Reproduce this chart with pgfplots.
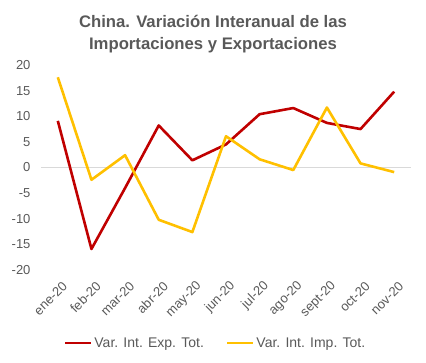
\documentclass[border=0pt]{standalone}
\usepackage{pgfplots}
\pgfplotsset{compat=1.18}
\usepackage{fontspec}
\setmainfont{Liberation Sans}
\definecolor{txt}{HTML}{595959}
\definecolor{expc}{HTML}{C00000}
\definecolor{impc}{HTML}{FFC000}
\definecolor{zl}{HTML}{D9D9D9}
\begin{document}
\begin{tikzpicture}[x=1pt,y=1pt]
\useasboundingbox (-41,-93) rectangle (385,270);
\begin{axis}[
  at={(0,0)}, anchor=south west,
  scale only axis, width=370pt, height=205pt,
  xmin=-0.5, xmax=10.5, ymin=-20, ymax=20,
  axis line style={draw=none},
  major tick length=0pt,
  xtick={0,...,10},
  xticklabels={ene-20,feb-20,mar-20,abr-20,may-20,jun-20,jul-20,ago-20,sept-20,oct-20,nov-20},
  xticklabel style={rotate=45, anchor=east, font=\fontsize{13}{15}\selectfont, text=txt, xshift=-4pt, yshift=-15pt, inner sep=1pt},
  ytick={-20,-15,...,20},
  yticklabel style={font=\fontsize{13}{15}\selectfont, text=txt, xshift=-7pt},
  /pgf/number format/assume math mode=true,
  extra y ticks={0}, extra y tick labels={},
  extra y tick style={grid=major, major grid style={color=zl, line width=0.9pt}},
  legend style={at={(0.4716,-0.356)}, anchor=center, draw=none, legend columns=2, font=\fontsize{14}{16}\selectfont, text=txt, /tikz/every even column/.append style={column sep=20pt}},
  legend image code/.code={\draw[#1, line width=2.6pt] (0pt,0pt) -- (26pt,0pt);},
  title style={align=center, font=\bfseries\fontsize{16.7}{22}\selectfont, text=txt, yshift=2pt, xshift=-13pt},
  title={China. Variación Interanual de las\\Importaciones y Exportaciones},
  clip=false,
]
\addplot[expc, line width=2.6pt, line join=round] coordinates {
(0,9.1) (1,-15.9) (2,-4.0) (3,8.2) (4,1.4) (5,4.5) (6,10.4) (7,11.6) (8,8.7) (9,7.5) (10,14.8)};
\addlegendentry{Var. Int. Exp. Tot.}
\addplot[impc, line width=2.6pt, line join=round] coordinates {
(0,17.6) (1,-2.4) (2,2.4) (3,-10.2) (4,-12.6) (5,6.1) (6,1.6) (7,-0.5) (8,11.7) (9,0.8) (10,-0.9)};
\addlegendentry{Var. Int. Imp. Tot.}
\end{axis}
\end{tikzpicture}
\end{document}
